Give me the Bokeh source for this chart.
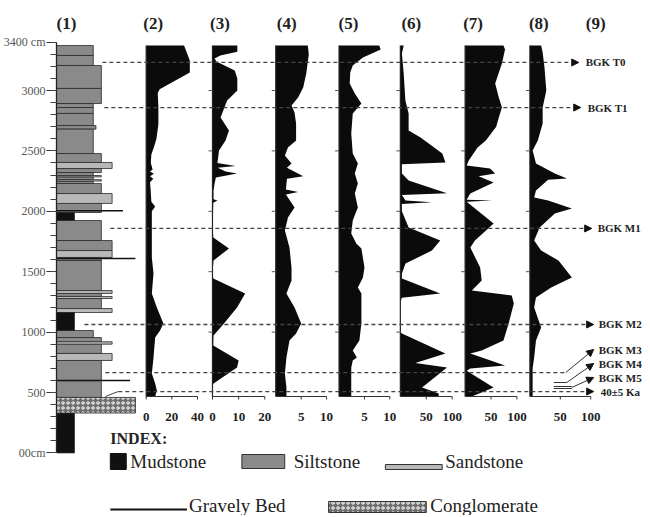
import numpy as np
from bokeh.plotting import figure
from bokeh.models import Range1d, FixedTicker, Arrow, NormalHead
from bokeh.embed import file_html
from bokeh.resources import INLINE
from bokeh.core.properties import value

# ---------------- data ----------------
header_labels = ["(1)", "(2)", "(3)", "(4)", "(5)", "(6)", "(7)", "(8)", "(9)"]

# lithology beds (cm): top, bottom, type, grain-size class
bed_top = [3372, 3290, 3207, 3017, 2892, 2859, 2810, 2710, 2680, 2478, 2404, 2354, 2321, 2296,
           2285, 2262, 2250, 2230, 2147, 2065, 1990, 1924, 1758, 1675, 1618, 1593, 1344, 1320,
           1295, 1278, 1195, 1162, 1013, 955, 920, 900, 823, 765, 599, 459, 330]
bed_bot = [3290, 3207, 3017, 2892, 2859, 2810, 2710, 2680, 2478, 2404, 2354, 2321, 2296, 2285,
           2262, 2250, 2230, 2147, 2065, 1990, 1924, 1758, 1675, 1618, 1593, 1344, 1320, 1295,
           1278, 1195, 1162, 1013, 955, 920, 900, 823, 765, 599, 459, 330, 0]
bed_type = ["S", "S", "S", "S", "S", "S", "S", "S", "S", "S", "s", "S", "S", "s",
            "S", "s", "S", "S", "s", "S", "M", "S", "S", "s", "S", "S", "s", "S",
            "s", "S", "s", "M", "S", "S", "s", "S", "s", "S", "S", "C", "M"]
bed_size = [2.05, 2.05, 2.5, 2.5, 2.05, 2.05, 2.05, 2.2, 2.05, 2.5, 3.1, 2.5, 2.05, 2.5,
            2.05, 2.5, 2.05, 2.5, 3.1, 2.5, 1.0, 2.5, 3.1, 3.1, 2.5, 2.5, 3.1, 2.5,
            3.1, 2.5, 3.1, 1.0, 2.05, 2.5, 3.1, 2.5, 3.1, 2.5, 2.5, 4.4, 1.0]
gravel_depth = [2005, 1609, 599]
gravel_size = [3.7, 4.4, 4.1]

depth_ticks = [0, 500, 1000, 1500, 2000, 2500, 3000, 3400]

c2_depth = [3372, 3248, 3149, 3010, 2980, 2860, 2720, 2600, 2530, 2470, 2400, 2345, 2330, 2310, 2290,
            2270, 2240, 2172, 2080, 2040, 2000, 1866, 1618, 1485, 1320, 1204, 1071, 1013, 955, 790,
            657, 574, 517, 467]
c2_val = [29.5, 34, 34, 10.5, 9, 9.5, 9.5, 8, 6, 4, 3.6, 5, 3, 6, 3, 5.5, 3, 3.5, 4, 7, 4.4, 4.4, 4.4,
          5.7, 4.4, 8.3, 13.4, 10.8, 7, 5.7, 4.4, 7, 8.3, 7]
c3_depth = [3372, 3320, 3290, 3265, 3240, 3166, 3100, 3000, 2917, 2776, 2669, 2586, 2503, 2400, 2375,
            2360, 2330, 2313, 2280, 2230, 2172, 2100, 2089, 2070, 1866, 1783, 1692, 1593, 1485, 1444,
            1320, 1204, 1071, 972, 889, 765, 707, 574, 550, 467]
c3_val = [9.5, 9.5, 3, 0.8, 1.5, 8.5, 9.5, 9.5, 5.6, 3.1, 6.3, 5, 2.5, 1.9, 8.8, 2, 5, 9.4, 1.3, 0.8,
          0.4, 0.4, 1.9, 0.3, 0.1, 0.3, 6.3, 0.4, 0, 0.3, 12.5, 9.4, 4.4, 0.4, 0.3, 10, 9.4, 0.4, 0, 0]
c4_depth = [3372, 3300, 3141, 3025, 2942, 2876, 2818, 2727, 2586, 2528, 2462, 2396, 2360, 2290, 2270,
            2180, 2160, 2140, 2031, 1949, 1841, 1700, 1535, 1427, 1320, 1204, 1071, 988, 930, 790,
            657, 541, 467]
c4_val = [6.3, 6.5, 6, 5.4, 4.4, 3.1, 3.7, 4, 4, 2.4, 1.8, 3.1, 2.2, 5.4, 2.2, 2, 4.4, 2, 3.7, 2.4,
          1.8, 2.7, 3.1, 3.1, 2.1, 3.7, 5, 4, 2.7, 2.1, 1.8, 2.1, 2.1]
c5_depth = [3372, 3340, 3273, 3207, 3149, 3058, 2975, 2892, 2810, 2644, 2478, 2396, 2313, 2230, 2147,
            2031, 1924, 1816, 1733, 1692, 1535, 1452, 1369, 1320, 1071, 930, 848, 790, 765, 707,
            517, 467]
c5_val = [7.9, 8.2, 4.7, 2.7, 2.2, 2.1, 3.1, 4.4, 2.7, 2.4, 2.7, 3.7, 3.1, 3.7, 3.1, 3.7, 2.7, 2.4,
          3.4, 4.4, 5, 4.7, 3.7, 4.4, 4.4, 4, 2.7, 3.5, 2.7, 2.4, 2.4, 2.4]
c6_depth = [3372, 3306, 3141, 2917, 2810, 2669, 2611, 2478, 2404, 2390, 2313, 2255, 2150, 2135, 2089,
            2075, 2060, 2000, 1866, 1758, 1675, 1568, 1485, 1444, 1320, 1285, 1250, 1000, 988, 823,
            745, 707, 541, 492, 467]
c6_val = [6.5, 3, 6.5, 9.7, 16, 16, 39, 81, 87, 3, 3, 16, 90, 3, 10, 61, 3, 3, 16, 77, 61, 10, 3, 3,
          77, 3, 0, 0, 3, 87, 29, 90, 42, 74, 74]
c7_depth = [3372, 3340, 3224, 3058, 2942, 2859, 2776, 2700, 2586, 2528, 2420, 2379, 2354, 2313, 2290,
            2238, 2147, 2095, 2089, 2080, 1899, 1758, 1700, 1535, 1427, 1344, 1303, 1237, 1071, 930,
            848, 823, 724, 699, 680, 541, 467]
c7_val = [74, 77, 71, 58, 65, 71, 65, 60, 40, 24, 7, 3, 48, 58, 26, 55, 10, 3, 52, 3, 55, 19, 10, 29,
          32, 13, 90, 94, 84, 74, 32, 10, 77, 10, 3, 55, 13]
c8_depth = [3372, 3315, 3190, 3000, 2859, 2727, 2586, 2503, 2396, 2313, 2272, 2262, 2172, 2114, 2089,
            2023, 1982, 1866, 1758, 1675, 1593, 1452, 1369, 1286, 1204, 1038, 930, 790, 700, 467]
c8_val = [18.5, 21, 24, 27, 21, 21, 13, 4.5, 10, 41, 61, 30, 10, 7, 30, 69, 41, 16, 7, 18.5, 47, 69,
          35, 10, 7, 18.5, 10, 7, 4.5, 4.5]

c2_ticks = [0, 20, 40];  c2_labels = ["0", "20", "40"]
c3_ticks = [0, 10, 20];  c3_labels = ["0", "10", "20"]
c4_ticks = [5, 10];      c4_labels = ["5", "10"]
c5_ticks = [5, 10];      c5_labels = ["5", "10"]
c6_ticks = [50, 100];    c6_labels = ["50", "100"]
c7_ticks = [50, 100];    c7_labels = ["50", "100"]
c8_ticks = [50, 100];    c8_labels = ["50", "100"]
c_max = [40, 20, 10, 10, 100, 100, 100]

hz_names = ["BGK T0", "BGK T1", "BGK M1", "BGK M2", "BGK M3", "BGK M4", "BGK M5", "40±5 Ka"]
hz_depths = [3232, 2859, 1858, 1063, 665, 582, 541, 508]

legend_labels = ["Mudstone", "Siltstone", "Sandstone", "Gravely Bed", "Conglomerate"]

# ---------------- layout ----------------
W, H = 648, 515
FL, FR, PT, PB = 54, W, 0, H          # frame edges in page px
PX_PER_CM = 0.1208
Y0_PX, Y0_D = 90, 3000
d_top = Y0_D + (Y0_PX - PT) / PX_PER_CM
d_bot = Y0_D - (PB - Y0_PX) / PX_PER_CM

col_pos = {"c2": (144, 1.2875), "c3": (210.5, 2.625), "c4": (274, 5.1), "c5": (337.5, 5.1),
           "c6": (399, 0.52), "c7": (464, 0.52), "c8": (529, 0.61)}
lith_k = 18.0

def mk_range(x0, k):
    return Range1d((FL - x0) / k, (FR - x0) / k)

FONT = value("Liberation Serif")

p = figure(width=W, height=H, x_range=Range1d(FL, FR), y_range=Range1d(d_bot, d_top),
           output_backend="svg", toolbar_location=None, x_axis_location=None,
           min_border_left=FL, min_border_right=0, min_border_top=0, min_border_bottom=0)
p.extra_y_ranges = {"px": Range1d(PB, PT)}
p.extra_x_ranges = {name: mk_range(*pos) for name, pos in col_pos.items()}
p.extra_x_ranges["lith"] = mk_range(FL, lith_k)
p.grid.grid_line_color = None
p.outline_line_color = None
p.background_fill_color = "white"

# left depth axis
ya = p.yaxis[0]
ya.ticker = FixedTicker(ticks=depth_ticks, minor_ticks=list(range(0, 3401, 100)))
ya.bounds = (0, 3400)
ya.major_label_overrides = {0: "00cm", 3400: "3400 cm"}
ya.major_tick_out = 10
ya.major_tick_in = 0
ya.minor_tick_out = 6
ya.minor_tick_in = 0
ya.axis_line_color = "#222"
ya.axis_line_width = 1.3
ya.major_tick_line_color = "#333"
ya.minor_tick_line_color = "#444"
ya.major_label_text_font = "Liberation Serif"
ya.major_label_text_font_size = "12px"
ya.major_label_text_color = "#555"
ya.major_label_standoff = 1

# lithology column
fill_map = {"S": "#8a8a8a", "s": "#b8b8b8", "M": "#111111", "C": "#6e6e6e"}
for t in ["S", "s", "M"]:
    idx = [i for i, b in enumerate(bed_type) if b == t]
    p.quad(left=0, right=[bed_size[i] for i in idx], top=[bed_top[i] for i in idx],
           bottom=[bed_bot[i] for i in idx], x_range_name="lith",
           fill_color=fill_map[t], line_color="#2a2a2a", line_width=0.8)
idx = [i for i, b in enumerate(bed_type) if b == "C"]
p.quad(left=0, right=[bed_size[i] for i in idx], top=[bed_top[i] for i in idx],
       bottom=[bed_bot[i] for i in idx], x_range_name="lith", fill_color=fill_map["C"],
       hatch_pattern="o", hatch_color="white", hatch_scale=5, hatch_weight=1,
       line_color="#2a2a2a", line_width=0.8)
p.segment(x0=0, x1=gravel_size, y0=gravel_depth, y1=gravel_depth, x_range_name="lith",
          line_color="#111", line_width=1.5)

# data columns
col_data = [("c2", c2_depth, c2_val, c2_ticks, c2_labels), ("c3", c3_depth, c3_val, c3_ticks, c3_labels),
            ("c4", c4_depth, c4_val, c4_ticks, c4_labels), ("c5", c5_depth, c5_val, c5_ticks, c5_labels),
            ("c6", c6_depth, c6_val, c6_ticks, c6_labels), ("c7", c7_depth, c7_val, c7_ticks, c7_labels),
            ("c8", c8_depth, c8_val, c8_ticks, c8_labels)]
for j, (name, dep, val, ticks, labels) in enumerate(col_data):
    k = col_pos[name][1]
    top, bot = dep[0], dep[-1]
    p.harea(y=dep, x1=0, x2=val, x_range_name=name, fill_color="#0b0b0b")
    p.line(x=[0, 0], y=[top, bot], x_range_name=name, line_color="#222", line_width=1.2)
    p.line(x=[0, c_max[j]], y=[bot, bot], x_range_name=name, line_color="#333", line_width=1.2)
    p.segment(x0=ticks, x1=ticks, y0=bot, y1=bot - 3 / PX_PER_CM, x_range_name=name,
              line_color="#333", line_width=1)
    if j > 0:
        lt = depth_ticks[2:7]
        p.segment(x0=[-4 / k] * len(lt), x1=[0] * len(lt), y0=lt, y1=lt, x_range_name=name,
                  line_color="#555", line_width=1)
    p.text(x=ticks, y=[bot] * len(ticks), text=labels, x_range_name=name, y_offset=21,
           text_font=FONT, text_font_style="bold", text_font_size="13px", text_color="#222",
           text_align="center", text_baseline="middle")

# headers
header_x = [64, 151, 218, 285, 347, 410, 472, 538, 595]
p.text(x=header_x, y=[23] * 9, text=header_labels, y_range_name="px", text_font=FONT,
       text_font_style="bold", text_font_size="17px", text_color="#222",
       text_align="center", text_baseline="middle")

# horizons
hz_x0 = [100, 102, 108, 82, 103, None, None, 116]
hz_x1 = [578, 580, 591, 593, 565, None, None, 593]
hz_lx = [585, 587, 597, 598, 598, 598, 598, 600]
for i in [0, 1, 2, 3, 7]:
    p.add_layout(Arrow(end=NormalHead(size=7, fill_color="#111", line_color="#111"),
                       x_start=hz_x0[i], y_start=hz_depths[i], x_end=hz_x1[i], y_end=hz_depths[i],
                       line_color="#444", line_width=1.3, line_dash="4 3"))
p.line(x=[hz_x0[4], hz_x1[4]], y=[hz_depths[4]] * 2, line_color="#444", line_width=1.3, line_dash="4 3")
p.line(x=[103, 116], y=[396, 391], y_range_name="px", line_color="#444", line_width=1)
# leaders to M3, M4, M5
p.line(x=[553, 566], y=[382, 382], y_range_name="px", line_color="#333", line_width=1)
p.line(x=[553, 571], y=[386, 386], y_range_name="px", line_color="#333", line_width=1)
p.line(x=[553, 571], y=[388, 388], y_range_name="px", line_color="#333", line_width=1)
lab_px = [349, 363, 377]
starts = [(565, 372), (566, 382), (571, 387)]
for (sx, sy), ly in zip(starts, lab_px):
    p.add_layout(Arrow(end=NormalHead(size=7, fill_color="#111", line_color="#111"),
                       x_start=sx, y_start=sy, x_end=593, y_end=ly, y_range_name="px",
                       line_color="#333", line_width=1))
p.text(x=hz_lx[:4], y=hz_depths[:4], text=hz_names[:4], text_font=FONT, text_font_style="bold",
       text_font_size="11px", text_color="#222", text_align="left", text_baseline="middle")
p.text(x=hz_lx[4:7], y=lab_px, text=hz_names[4:7], y_range_name="px", text_font=FONT,
       text_font_style="bold", text_font_size="11px", text_color="#222", text_align="left",
       text_baseline="middle")
p.text(x=[hz_lx[7]], y=[hz_depths[7]], text=[hz_names[7]], text_font=FONT, text_font_style="bold",
       text_font_size="11px", text_color="#222", text_align="left", text_baseline="middle")

# legend (INDEX)
p.text(x=[108], y=[438], text=["INDEX:"], y_range_name="px", text_font=FONT, text_font_style="bold",
       text_font_size="16px", text_color="#222", text_align="left", text_baseline="middle")
p.quad(left=[108], right=[124], top=[453], bottom=[469], y_range_name="px",
       fill_color="#111", line_color="#111")
p.quad(left=[240], right=[283], top=[454], bottom=[468], y_range_name="px",
       fill_color="#8a8a8a", line_color="#333")
p.quad(left=[384], right=[441], top=[464], bottom=[469], y_range_name="px",
       fill_color="#b8b8b8", line_color="#333")
p.line(x=[108, 185], y=[509, 509], y_range_name="px", line_color="#111", line_width=2)
p.quad(left=[327], right=[425], top=[501], bottom=[512], y_range_name="px", fill_color="#6e6e6e",
       hatch_pattern="o", hatch_color="white", hatch_scale=5, hatch_weight=1, line_color="#333")
p.text(x=[128, 292, 444, 187, 429], y=[461, 461, 461, 505, 505], text=legend_labels,
       y_range_name="px", text_font=FONT, text_font_size="19px", text_color="#222",
       text_align="left", text_baseline="middle")

open("out.html", "w").write(file_html(p, INLINE))
